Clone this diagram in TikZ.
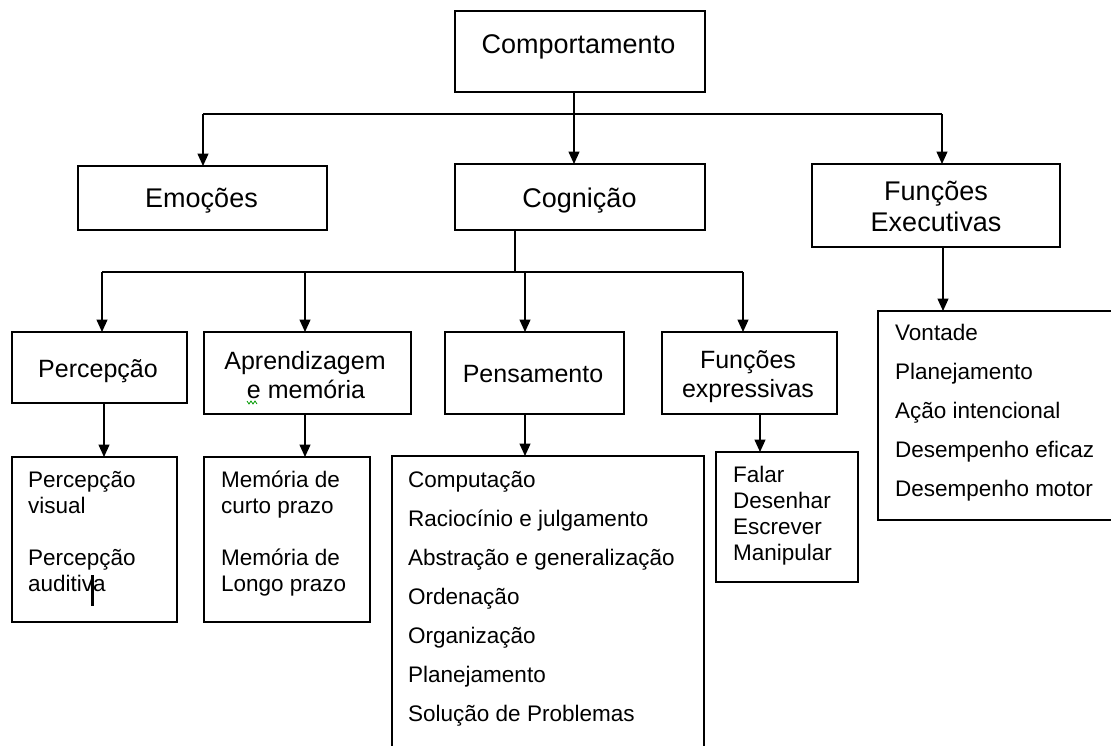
\documentclass[tikz,border=0pt]{standalone}
\usepackage{fontspec}
\setmainfont{Liberation Sans}
\usetikzlibrary{arrows.meta}
\begin{document}
\begin{tikzpicture}[x=1pt,y=-1pt,
  box/.style={draw, line width=1.4pt, inner sep=0pt, outer sep=0pt},
  lnk/.style={line width=1.4pt},
  arr/.style={line width=1.4pt, -{Triangle[width=11pt,length=12.5pt]}},
  tA/.style={anchor=base, inner sep=0pt, font=\fontsize{27}{31}\selectfont},
  tB/.style={anchor=base, inner sep=0pt, font=\fontsize{25}{29}\selectfont},
  tL/.style={anchor=base west, inner sep=0pt, font=\fontsize{22.5}{26}\selectfont},
]
\useasboundingbox (0,0) rectangle (1111,745);
\fill[white] (0,0) rectangle (1111,745);
\clip (0,0) rectangle (1111,745);

% level 1
\node[box, minimum width=250pt, minimum height=81pt] (comp) at (580,51.5) {};
\node[tA] (compT) at (578.5,53) {Comportamento};

% level 2
\node[box, minimum width=249pt, minimum height=64pt] (emo) at (202.5,198) {};
\node[tA] (emoT) at (201.5,207) {Emoções};
\node[box, minimum width=250pt, minimum height=66pt] (cog) at (580,197) {};
\node[tA] (cogT) at (579.5,207) {Cognição};
\node[box, minimum width=248pt, minimum height=83pt] (fe) at (936,205.5) {};
\node[tA] (feT1) at (936,200) {Funções};
\node[tA] (feT2) at (936,231) {Executivas};

% level 3
\node[box, minimum width=175pt, minimum height=71pt] (perc) at (99.5,367.5) {};
\node[tB] (percT) at (98,377) {Percepção};
\node[box, minimum width=207pt, minimum height=82pt] (apr) at (307.5,373) {};
\node[tB] (aprT1) at (305,369) {Aprendizagem};
\node[tB] (aprT2) at (306,398) {e memória};
\node[box, minimum width=179pt, minimum height=82pt] (pens) at (534.5,373) {};
\node[tB] (pensT) at (533,382) {Pensamento};
\node[box, minimum width=175pt, minimum height=82pt] (fexp) at (749.5,373) {};
\node[tB] (fexpT1) at (748,368) {Funções};
\node[tB] (fexpT2) at (748,397) {expressivas};

% level 4 lists
\node[box, minimum width=165pt, minimum height=165pt] (pl) at (94.5,539.5) {};
\node[tL] (pl1) at (28,487) {Percepção};
\node[tL] (pl2) at (28,513) {visual};
\node[tL] (pl3) at (28,565) {Percepção};
\node[tL] (pl4) at (28,591) {auditiva};

\node[box, minimum width=166pt, minimum height=165pt] (ml) at (287,539.5) {};
\node[tL] (ml1) at (221,487) {Memória de};
\node[tL] (ml2) at (221,513) {curto prazo};
\node[tL] (ml3) at (221,565) {Memória de};
\node[tL] (ml4) at (221,591) {Longo prazo};

\node[box, minimum width=312pt, minimum height=344pt] (tl) at (548,628) {};
\foreach \t [count=\i from 0] in {Computação,Raciocínio e julgamento,Abstração e generalização,Ordenação,Organização,Planejamento,Solução de Problemas}
  \node[tL] (tl\i) at (408,487+39*\i) {\t};

\node[box, minimum width=142pt, minimum height=130pt] (el) at (787,517) {};
\foreach \t [count=\i from 0] in {Falar,Desenhar,Escrever,Manipular}
  \node[tL] (el\i) at (733,482+26*\i) {\t};

\node[box, minimum width=322pt, minimum height=209pt] (vl) at (1039,415.5) {};
\foreach \t [count=\i from 0] in {Vontade,Planejamento,Ação intencional,Desempenho eficaz,Desempenho motor}
  \node[tL] (vl\i) at (895,340+39*\i) {\t};

% connectors level 1 -> 2
\coordinate (b1) at (574,114);
\coordinate (b1l) at (203,114);
\coordinate (b1r) at (942,114);
\draw[lnk] (comp.south -| b1) -- (b1);
\draw[lnk] (b1l) -- (b1r);
\draw[arr] (b1l) -- (b1l |- emo.north);
\draw[arr] (b1) -- (b1 |- cog.north);
\draw[arr] (b1r) -- (b1r |- fe.north);

% connectors cognition -> level 3
\coordinate (b2) at (515,272);
\coordinate (b2a) at (102,272);
\coordinate (b2b) at (305,272);
\coordinate (b2c) at (525,272);
\coordinate (b2d) at (743,272);
\draw[lnk] (cog.south -| b2) -- (b2);
\draw[lnk] (b2a) -- (b2d);
\draw[arr] (b2a) -- (b2a |- perc.north);
\draw[arr] (b2b) -- (b2b |- apr.north);
\draw[arr] (b2c) -- (b2c |- pens.north);
\draw[arr] (b2d) -- (b2d |- fexp.north);

% connectors level 3 -> lists
\coordinate (xa) at (104,0);
\coordinate (xb) at (305,0);
\coordinate (xc) at (525,0);
\coordinate (xd) at (760,0);
\coordinate (xe) at (943,0);
\draw[arr] (perc.south -| xa) -- (xa |- pl.north);
\draw[arr] (apr.south -| xb) -- (xb |- ml.north);
\draw[arr] (pens.south -| xc) -- (xc |- tl.north);
\draw[arr] (fexp.south -| xd) -- (xd |- el.north);
\draw[arr] (fe.south -| xe) -- (xe |- vl.north);

% text cursor and spell-check squiggle
\draw[line width=3pt] (92,575) -- (92,606);
\draw[green!60!black, line width=0.8pt] (247,401) -- (249,404) -- (251,401) -- (253,404) -- (255,401) -- (257,404);
\end{tikzpicture}
\end{document}
